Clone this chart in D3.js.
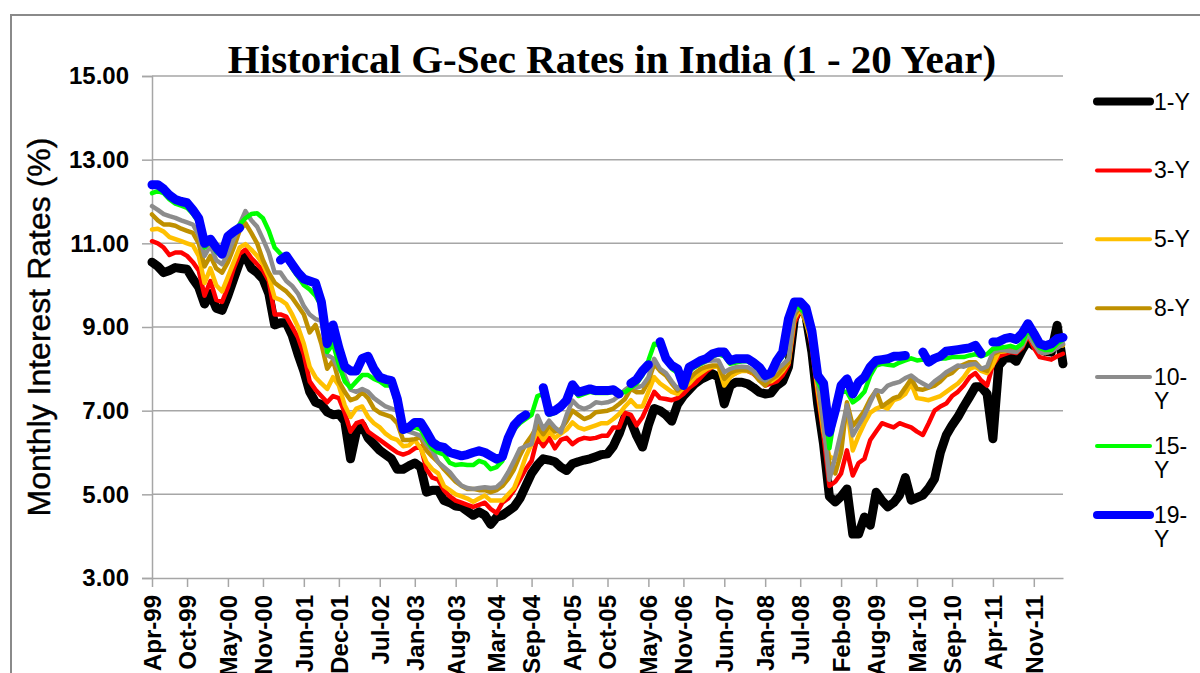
<!DOCTYPE html>
<html><head><meta charset="utf-8">
<script src="https://cdn.jsdelivr.net/npm/d3@7"></script>
<style>body{margin:0;background:#fff}svg{display:block}</style>
</head><body>
<svg id="c" width="1200" height="673"></svg>
<script>
// ---------- data ----------
const categories = d3.timeMonth.range(new Date(1999, 3, 1), new Date(2012, 4, 1)).map(d3.timeFormat("%b-%y"));
const tickLabels = ["Apr-99","Oct-99","May-00","Nov-00","Jun-01","Dec-01","Jul-02","Jan-03","Aug-03","Mar-04","Sep-04","Apr-05","Oct-05","May-06","Nov-06","Jun-07","Jan-08","Jul-08","Feb-09","Aug-09","Mar-10","Sep-10","Apr-11","Nov-11"];
const yTicks = [3, 5, 7, 9, 11, 13, 15];
const seriesNames = ["1-Y", "3-Y", "5-Y", "8-Y", "10-Y", "15-Y", "19-Y"];

const y1 = [10.55,10.45,10.3,10.35,10.42,10.4,
10.38,10.15,9.95,9.55,9.8,9.45,
9.4,9.75,10.15,10.55,10.7,10.4,
10.3,10.15,9.8,9.05,9.1,9.1,
8.8,8.35,7.95,7.45,7.2,7.15,
6.97,6.9,6.92,6.75,5.85,6.5,
6.65,6.35,6.2,6.05,5.95,5.85,
5.6,5.6,5.68,5.75,5.65,5.05,
5.1,5.1,4.85,4.8,4.72,4.7,
4.6,4.5,4.58,4.5,4.28,4.45,
4.5,4.6,4.7,4.9,5.2,5.5,
5.7,5.85,5.82,5.78,5.65,5.57,
5.73,5.78,5.82,5.85,5.9,5.95,
5.97,6.15,6.45,6.85,6.75,6.4,
6.13,6.65,7.05,7.0,6.9,6.75,
7.15,7.35,7.5,7.65,7.75,7.82,
7.88,7.8,7.16,7.6,7.68,7.68,
7.64,7.55,7.44,7.4,7.42,7.6,
7.7,8.05,9.2,9.52,9.25,8.4,
7.15,6.2,4.95,4.82,4.95,5.13,
4.05,4.05,4.46,4.26,5.05,4.85,
4.7,4.8,4.98,5.4,4.86,4.92,
4.98,5.15,5.37,6.0,6.41,6.65,
6.85,7.1,7.33,7.57,7.57,7.4,
6.33,8.08,8.24,8.28,8.18,8.45,
8.68,8.55,8.48,8.42,8.4,9.04,
8.12];

const y3 = [11.05,11.0,10.9,10.72,10.78,10.78,
10.7,10.55,10.35,9.75,10.1,9.65,
9.6,9.95,10.4,10.75,10.85,10.65,
10.5,10.35,10.1,9.3,9.3,9.25,
9.0,8.75,8.35,7.7,7.5,7.35,
7.2,7.35,7.3,6.95,6.5,6.7,
6.75,6.5,6.4,6.3,6.2,6.1,
6.0,5.95,6.0,6.1,6.15,5.6,
5.4,5.35,5.1,4.95,4.85,4.8,
4.75,4.7,4.75,4.8,4.65,4.55,
4.8,4.9,5.1,5.35,5.6,5.8,
6.35,6.15,6.35,6.1,6.3,6.35,
6.2,6.3,6.35,6.33,6.35,6.4,
6.4,6.6,6.6,6.95,6.9,6.65,
6.85,7.15,7.45,7.3,7.28,7.25,
7.3,7.4,7.55,7.65,7.8,7.95,
8.05,8.05,7.75,7.85,7.9,8.0,
7.95,7.88,7.75,7.6,7.65,7.7,
7.85,8.1,9.1,9.4,9.2,8.5,
7.4,6.4,5.2,5.3,5.5,6.05,
5.45,5.75,5.85,6.3,6.5,6.7,
6.65,6.6,6.7,6.65,6.6,6.5,
6.42,6.7,7.0,7.1,7.17,7.35,
7.45,7.6,7.8,7.9,7.72,7.6,
8.1,8.3,8.35,8.4,8.38,8.5,
8.8,8.5,8.28,8.25,8.22,8.3,
8.36];

const y5 = [11.33,11.35,11.28,11.15,11.1,11.05,
11.0,10.95,10.7,10.05,10.4,10.0,
9.85,10.2,10.55,10.9,10.98,10.85,
10.7,10.5,10.2,9.7,9.65,9.55,
9.3,9.0,8.6,8.05,7.8,7.65,
7.52,7.8,7.6,7.13,6.85,7.05,
7.1,6.85,6.7,6.6,6.45,6.35,
6.3,6.15,6.17,6.3,6.1,5.77,
5.6,5.5,5.2,5.1,5.0,4.95,
4.9,4.82,4.9,4.97,4.85,4.85,
4.85,5.0,5.15,5.5,5.9,6.2,
6.52,6.3,6.5,6.35,6.45,6.55,
6.72,6.6,6.55,6.6,6.65,6.7,
6.7,6.8,6.92,7.1,7.25,7.1,
7.1,7.45,7.8,7.65,7.55,7.45,
7.4,7.55,7.65,7.8,7.9,8.0,
8.05,8.05,7.6,7.8,7.9,7.95,
7.95,7.9,7.75,7.68,7.7,7.8,
7.95,8.15,9.2,9.45,9.1,8.6,
7.5,6.5,5.9,5.84,6.3,7.1,
6.05,6.4,6.7,6.95,7.05,7.1,
7.05,7.25,7.3,7.4,7.65,7.3,
7.28,7.25,7.3,7.35,7.45,7.55,
7.65,7.8,8.0,8.05,7.95,7.9,
8.1,8.4,8.42,8.45,8.42,8.55,
8.84,8.6,8.45,8.4,8.45,8.55,
8.56];

const y8 = [11.69,11.55,11.45,11.45,11.42,11.35,
11.3,11.25,11.0,10.45,10.7,10.4,
10.3,10.55,10.9,11.3,11.48,11.25,
11.0,10.6,10.3,10.06,9.95,9.85,
9.7,9.5,9.3,8.87,9.05,8.6,
8.0,8.2,7.7,7.45,7.25,7.3,
7.44,7.3,7.05,6.95,6.9,6.85,
6.7,6.3,6.3,6.32,6.37,6.05,
5.9,5.77,5.6,5.45,5.3,5.2,
5.13,5.13,5.1,5.1,5.05,5.1,
5.2,5.37,5.6,5.93,6.2,6.4,
6.64,6.44,6.64,6.5,6.55,6.75,
7.0,6.9,6.8,6.85,6.96,6.98,
7.0,7.05,7.16,7.28,7.52,7.44,
7.44,7.7,8.12,7.95,7.84,7.65,
7.48,7.6,7.76,7.9,8.0,8.05,
8.08,8.08,7.76,7.9,7.96,7.98,
7.96,7.9,7.72,7.6,7.75,7.84,
8.0,8.16,9.28,9.5,9.1,8.72,
7.7,6.6,5.76,5.5,6.0,7.2,
6.64,6.8,7.0,7.28,7.48,7.1,
7.2,7.3,7.35,7.55,7.76,7.52,
7.5,7.55,7.6,7.7,7.84,7.9,
8.04,8.1,8.16,8.16,8.0,7.95,
8.35,8.42,8.45,8.45,8.42,8.55,
8.84,8.6,8.42,8.38,8.42,8.52,
8.58];

const y10 = [11.89,11.8,11.7,11.65,11.61,11.55,
11.5,11.45,11.2,10.7,10.95,10.6,
10.5,10.75,11.1,11.45,11.77,11.55,
11.4,11.1,10.78,10.3,10.3,10.1,
9.98,9.8,9.5,9.3,9.19,9.15,
8.33,8.25,8.0,7.84,7.5,7.45,
7.52,7.45,7.3,7.2,7.1,7.05,
7.0,6.55,6.5,6.45,6.4,6.2,
6.05,5.77,5.65,5.53,5.35,5.21,
5.15,5.13,5.15,5.17,5.15,5.17,
5.3,5.53,5.8,6.09,6.15,6.2,
6.88,6.56,6.76,6.6,6.48,6.9,
7.24,7.1,7.04,7.1,7.2,7.18,
7.2,7.25,7.36,7.5,7.6,7.55,
7.6,7.8,8.24,8.0,7.9,7.7,
7.52,7.7,7.96,8.05,8.12,8.18,
8.2,8.2,7.92,8.0,8.04,8.05,
8.04,7.95,7.8,7.72,7.82,8.0,
8.1,8.24,9.36,9.5,9.2,8.72,
7.7,6.7,5.35,5.9,6.49,7.13,
6.41,6.65,6.89,7.2,7.49,7.45,
7.6,7.65,7.69,7.78,7.84,7.73,
7.65,7.57,7.7,7.8,7.92,8.0,
8.08,8.05,8.1,8.12,8.0,8.05,
8.4,8.45,8.45,8.42,8.4,8.55,
8.84,8.6,8.4,8.38,8.42,8.5,
8.6];

const y15 = [12.2,12.25,12.2,12.05,11.95,11.9,
11.85,11.7,11.5,10.9,11.05,10.8,
10.7,11.1,11.22,11.45,11.6,11.7,
11.72,11.6,11.3,10.9,10.75,10.65,
10.4,10.2,10.0,9.9,9.75,9.5,
8.4,8.6,8.1,7.7,7.55,7.7,
7.85,7.85,7.76,7.7,7.6,7.6,
7.1,6.5,6.55,6.6,6.55,6.3,
6.1,6.0,5.95,5.75,5.7,5.72,
5.7,5.7,5.8,5.75,5.6,5.65,
5.8,6.3,6.55,6.7,6.8,6.9,
7.35,7.4,6.9,6.95,7.05,7.2,
7.55,7.35,7.4,7.45,7.42,7.42,
7.42,7.45,7.44,7.44,7.55,7.65,
7.85,8.2,8.6,8.55,8.2,8.0,
7.9,7.55,7.95,8.05,8.12,8.2,
8.3,8.35,8.3,8.12,8.15,8.18,
8.18,8.1,7.96,7.78,7.85,8.12,
8.3,9.0,9.5,9.45,9.3,8.75,
7.7,7.4,6.1,6.97,7.45,7.45,
7.2,7.3,7.45,7.84,8.08,8.12,
8.1,8.08,8.15,8.2,8.25,8.2,
8.22,8.2,8.22,8.25,8.25,8.28,
8.28,8.28,8.32,8.35,8.3,8.35,
8.48,8.5,8.52,8.55,8.5,8.6,
8.96,8.7,8.5,8.45,8.45,8.6,
8.7];

const y19 = [12.4,12.4,12.3,12.15,12.05,12.0,
11.97,11.8,11.6,11.0,11.1,10.9,
10.74,11.17,11.28,11.37,null,null,
null,null,null,null,10.6,10.7,
10.5,10.3,10.15,10.1,10.05,9.6,
8.6,9.05,8.5,8.05,7.95,7.95,
8.25,8.3,8.0,7.8,7.75,7.72,
7.28,6.55,6.6,6.72,6.72,6.5,
6.25,6.15,6.12,6.0,5.96,5.92,
5.95,6.0,6.04,6.0,5.92,5.84,
5.9,6.35,6.65,6.8,6.9,null,
null,7.55,6.96,7.0,7.1,7.25,
7.62,7.44,7.48,7.52,7.48,7.48,
7.48,7.5,7.4,null,7.65,7.75,
7.95,8.1,null,8.65,8.25,8.08,
8.0,7.6,8.04,8.12,8.2,8.25,
8.36,8.4,8.4,8.2,8.24,8.24,
8.24,8.15,8.04,7.84,7.9,8.2,
8.4,9.2,9.6,9.6,9.45,8.9,
7.84,7.65,6.48,7.0,7.6,7.76,
7.4,7.68,7.8,8.05,8.2,8.22,
8.24,8.3,8.3,8.32,null,null,
8.4,8.16,8.25,8.3,8.42,8.44,
8.46,8.48,8.5,8.56,8.36,null,
8.64,8.65,8.72,8.75,8.7,8.85,
9.08,8.85,8.6,8.55,8.6,8.72,
8.75];

const seriesValues = [y1, y3, y5, y8, y10, y15, y19];
const seriesColors = ["#000000", "#ff0000", "#ffc000", "#bf9000", "#8c8c8c", "#00ff00", "#0000ff"];
const seriesWidths = [9, 4.5, 4.5, 4.5, 4.5, 4.5, 9];
const legendWidths = [8, 4, 4, 4, 4, 4, 8];

// ---------- layout ----------
const svg = d3.select("#c");
const pLeft = 152, pRight = 1063, pTop = 76, pBottom = 578;
const x = d3.scaleLinear().domain([0, categories.length - 1]).range([pLeft, pRight]);
const y = d3.scaleLinear().domain([3, 15]).range([pBottom, pTop]);

// outer border
svg.append("rect").attr("x", 11).attr("y", 15).attr("width", 1400).attr("height", 900)
  .attr("fill", "none").attr("stroke", "#8a8a8a").attr("stroke-width", 2);

// gridlines
svg.append("g").selectAll("line").data(yTicks.filter(v => v > 3)).join("line")
  .attr("x1", pLeft).attr("x2", pRight).attr("y1", d => y(d)).attr("y2", d => y(d))
  .attr("stroke", "#a6a6a6").attr("stroke-width", 1.5);

// y axis
const yAxis = svg.append("g").attr("transform", `translate(${pLeft},0)`)
  .call(d3.axisLeft(y).tickValues(yTicks).tickFormat(d3.format(".2f")).tickSize(10).tickPadding(13));
yAxis.select(".domain").attr("stroke", "#a6a6a6").attr("stroke-width", 1.5);
yAxis.selectAll(".tick line").attr("stroke", "#a6a6a6").attr("stroke-width", 1.5);
yAxis.selectAll(".tick text").attr("font-family", "Liberation Sans, Arial, sans-serif")
  .attr("font-weight", "bold").attr("font-size", 24).attr("fill", "#000");

// x axis
const tickIdx = tickLabels.map(l => categories.indexOf(l));
const xAxis = svg.append("g").attr("transform", `translate(0,${pBottom})`)
  .call(d3.axisBottom(x).tickValues(tickIdx).tickFormat(i => categories[i]).tickSize(9).tickSizeOuter(0).tickPadding(0));
xAxis.select(".domain").attr("stroke", "#a6a6a6").attr("stroke-width", 1.5);
xAxis.selectAll(".tick line").attr("stroke", "#a6a6a6").attr("stroke-width", 1.5);
xAxis.selectAll(".tick text")
  .attr("font-family", "Liberation Sans, Arial, sans-serif").attr("font-weight", "bold")
  .attr("font-size", 24).attr("fill", "#000")
  .attr("transform", "rotate(-90)").attr("text-anchor", "end")
  .attr("x", -17).attr("y", 0).attr("dy", "0.35em");

// lines
const line = d3.line().defined(d => d != null).x((d, i) => x(i)).y(d => y(d));
svg.append("g").selectAll("path").data(seriesValues).join("path")
  .attr("d", d => line(d))
  .attr("fill", "none")
  .attr("stroke", (d, i) => seriesColors[i])
  .attr("stroke-width", (d, i) => seriesWidths[i])
  .attr("stroke-linejoin", "round").attr("stroke-linecap", "round");

// title
svg.append("text").attr("x", 612).attr("y", 73).attr("text-anchor", "middle")
  .attr("font-family", "Liberation Serif, Times New Roman, serif").attr("font-weight", "bold")
  .attr("font-size", 41).attr("fill", "#000")
  .text("Historical G-Sec Rates in India (1 - 20 Year)");

// y title
svg.append("text").attr("transform", `translate(50,${(pTop + pBottom) / 2}) rotate(-90)`)
  .attr("text-anchor", "middle")
  .attr("font-family", "Liberation Sans, Arial, sans-serif").attr("font-size", 32).attr("fill", "#000")
  .attr("stroke", "#000").attr("stroke-width", 0.4)
  .text("Monthly Interest Rates (%)");

// legend
const lg = svg.append("g").selectAll("g").data(seriesNames).join("g")
  .attr("transform", (d, i) => `translate(0,${101.5 + i * 68.9})`);
lg.append("line").attr("x1", 1097).attr("x2", 1150).attr("y1", 0).attr("y2", 0)
  .attr("stroke", (d, i) => seriesColors[i]).attr("stroke-width", (d, i) => legendWidths[i])
  .attr("stroke-linecap", "round");
lg.each(function (name) {
  const t = d3.select(this).append("text").attr("x", 1154).attr("y", 0)
    .attr("font-family", "Liberation Sans, Arial, sans-serif").attr("font-size", 23).attr("fill", "#000");
  const parts = name.length > 3 ? [name.slice(0, name.indexOf("-") + 1), name.slice(name.indexOf("-") + 1)] : [name];
  parts.forEach((p, k) => t.append("tspan").attr("x", 1154).attr("dy", k === 0 ? "0.35em" : 24).text(p));
});
</script>
</body></html>
